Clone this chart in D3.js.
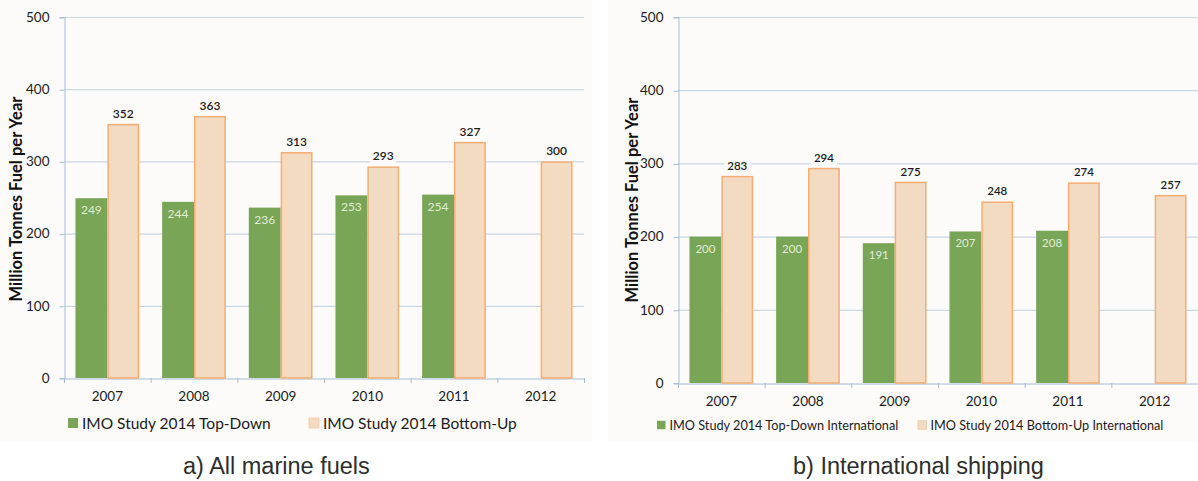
<!DOCTYPE html>
<html>
<head>
<meta charset="utf-8">
<script src="https://cdn.jsdelivr.net/npm/d3@7/dist/d3.min.js"></script>
<style>
  body { margin: 0; background: #ffffff; }
  svg { display: block; }
  .chart-text { font-family: Lato, "Open Sans", "DejaVu Sans", sans-serif; }
  .caption { font-family: "Liberation Sans", Arial, sans-serif; }
</style>
</head>
<body>
<svg id="chart" width="1198" height="481"></svg>
<script>
// Fuel consumption estimates, million tonnes per year
const years = ["2007", "2008", "2009", "2010", "2011", "2012"];
const allTopDown = [249, 244, 236, 253, 254, null];
const allBottomUp = [352, 363, 313, 293, 327, 300];
const intlTopDown = [200, 200, 191, 207, 208, null];
const intlBottomUp = [283, 294, 275, 248, 274, 257];
const yTicks = [0, 100, 200, 300, 400, 500];
const yTitle = "Million Tonnes Fuel per Year";
const seriesNamesAll = ["IMO Study 2014 Top-Down", "IMO Study 2014 Bottom-Up"];
const seriesNamesIntl = ["IMO Study 2014 Top-Down International", "IMO Study 2014 Bottom-Up International"];
const captions = ["a) All marine fuels", "b) International shipping"];

const GREEN = "#78a556";
const PEACH = "#f3dbc2";
const PEACH_EDGE = "#f5ad72";
const GRID = "#c9d6e4";
const AXIS = "#a8bdd6";
const PANEL_BG = "#fdfbf9";

const svg = d3.select("#chart");

const panels = [
  {
    topDown: allTopDown, bottomUp: allBottomUp, names: seriesNamesAll, caption: captions[0],
    bg: [0, 593], plot: { x0: 64, x1: 584, y0: 17, y1: 378 },
    titleX: 16, titleY: 199, tickFont: 13.5, xLabelY: 401, valueFont: 11.5,
    legend: { y: 423, size: 10, font: 15.5, items: [68, 309] },
    captionX: 183
  },
  {
    topDown: intlTopDown, bottomUp: intlBottomUp, names: seriesNamesIntl, caption: captions[1],
    bg: [608, 1198], plot: { x0: 678, x1: 1198, y0: 17, y1: 383 },
    titleX: 632, titleY: 200, tickFont: 13.5, xLabelY: 406, valueFont: 11,
    legend: { y: 425, size: 8.5, font: 12.7, items: [657, 918] },
    captionX: 793
  }
];

panels.forEach(p => {
  const g = svg.append("g");

  g.append("rect")
    .attr("x", p.bg[0]).attr("y", 0)
    .attr("width", p.bg[1] - p.bg[0]).attr("height", 442)
    .attr("fill", PANEL_BG);

  const x = d3.scaleBand().domain(years).range([p.plot.x0, p.plot.x1]).padding(0);
  const xs = d3.scaleBand().domain([0, 1]).range([0, x.bandwidth()])
    .paddingInner(0).paddingOuter(0.36);
  const y = d3.scaleLinear().domain([0, 500]).range([p.plot.y1, p.plot.y0]);

  // horizontal gridlines
  g.append("g").selectAll("line").data(yTicks.filter(t => t > 0)).join("line")
    .attr("x1", p.plot.x0).attr("x2", p.plot.x1)
    .attr("y1", d => y(d) + 0.5).attr("y2", d => y(d) + 0.5)
    .attr("stroke", GRID).attr("stroke-width", 1.2);

  // y axis
  const yAxis = g.append("g")
    .attr("transform", `translate(${p.plot.x0 + 0.5},0)`)
    .call(d3.axisLeft(y).tickValues(yTicks).tickSize(5).tickPadding(10));
  yAxis.select(".domain").attr("stroke", AXIS);
  yAxis.selectAll(".tick line").attr("stroke", AXIS).attr("transform", "translate(0,0.5)");
  yAxis.selectAll(".tick text")
    .attr("class", "chart-text").attr("fill", "#1a1a1a")
    .style("font-size", p.tickFont + "px");

  // x axis
  const xAxis = g.append("g")
    .attr("transform", `translate(0,${p.plot.y1 + 0.5})`)
    .call(d3.axisBottom(x).tickSize(0).tickPadding(0));
  xAxis.select(".domain").attr("stroke", AXIS);
  xAxis.selectAll(".tick text").remove();
  // boundary ticks between categories
  g.append("g").selectAll("line").data(years.concat(["end"])).join("line")
    .attr("x1", (d, i) => p.plot.x0 + i * x.step() + 0.5)
    .attr("x2", (d, i) => p.plot.x0 + i * x.step() + 0.5)
    .attr("y1", p.plot.y1).attr("y2", p.plot.y1 + 5)
    .attr("stroke", AXIS);
  g.append("g").selectAll("text").data(years).join("text")
    .attr("class", "chart-text")
    .attr("x", d => x(d) + x.bandwidth() / 2)
    .attr("y", p.xLabelY)
    .attr("text-anchor", "middle")
    .attr("fill", "#1a1a1a")
    .style("font-size", "13.5px")
    .text(d => d);

  // y axis title
  g.append("text")
    .attr("class", "chart-text")
    .attr("transform", `translate(${p.titleX},${p.titleY}) rotate(-90)`)
    .attr("text-anchor", "middle")
    .attr("dominant-baseline", "central")
    .attr("fill", "#111")
    .style("font-size", "16.5px")
    .style("font-weight", "bold")
    .text(yTitle);

  const rows = years.map((yr, i) => ({ yr, td: p.topDown[i], bu: p.bottomUp[i] }));

  // top-down bars
  g.append("g").selectAll("rect").data(rows.filter(r => r.td != null)).join("rect")
    .attr("x", r => x(r.yr) + xs(0))
    .attr("y", r => y(r.td))
    .attr("width", xs.bandwidth())
    .attr("height", r => y(0) - y(r.td))
    .attr("fill", GREEN);

  // bottom-up bars
  g.append("g").selectAll("rect").data(rows.filter(r => r.bu != null)).join("rect")
    .attr("x", r => x(r.yr) + xs(1) + 0.75)
    .attr("y", r => y(r.bu) + 0.75)
    .attr("width", xs.bandwidth() - 1.5)
    .attr("height", r => y(0) - y(r.bu) - 0.75)
    .attr("fill", PEACH)
    .attr("stroke", PEACH_EDGE)
    .attr("stroke-width", 1.5);

  // top-down value labels inside bars
  g.append("g").selectAll("text").data(rows.filter(r => r.td != null)).join("text")
    .attr("class", "chart-text")
    .attr("x", r => x(r.yr) + xs(0) + xs.bandwidth() / 2)
    .attr("y", r => y(r.td) + 16)
    .attr("text-anchor", "middle")
    .attr("fill", "#e3ecd6")
    .style("font-size", (p.valueFont + 0.5) + "px")
    .text(r => r.td);

  // bottom-up value labels above bars, on a small backing box
  const bl = g.append("g").selectAll("g").data(rows.filter(r => r.bu != null)).join("g")
    .attr("transform", r => `translate(${x(r.yr) + xs(1) + xs.bandwidth() / 2},${y(r.bu) - 6})`);
  bl.append("rect")
    .attr("x", -13).attr("y", -10).attr("width", 26).attr("height", 13)
    .attr("fill", PANEL_BG);
  bl.append("text")
    .attr("class", "chart-text")
    .attr("text-anchor", "middle")
    .attr("fill", "#1a1a1a")
    .style("font-size", (p.valueFont + 0.5) + "px")
    .style("font-weight", "600")
    .text(r => r.bu);

  // legend
  const lg = g.append("g");
  const fills = [GREEN, PEACH];
  p.names.forEach((name, i) => {
    const lx = p.legend.items[i];
    lg.append("rect")
      .attr("x", lx).attr("y", p.legend.y - p.legend.size / 2)
      .attr("width", p.legend.size).attr("height", p.legend.size)
      .attr("fill", fills[i])
      .attr("stroke", i === 1 ? "#f3c9a0" : "none")
      .attr("stroke-width", 0.8);
    lg.append("text")
      .attr("class", "chart-text")
      .attr("x", lx + p.legend.size + 4)
      .attr("y", p.legend.y)
      .attr("dominant-baseline", "central")
      .attr("fill", "#1a1a1a")
      .style("font-size", p.legend.font + "px")
      .text(name);
  });

  // caption
  g.append("text")
    .attr("class", "caption")
    .attr("x", p.captionX)
    .attr("y", 474)
    .attr("fill", "#2e2e2e")
    .style("font-size", "23.5px")
    .text(p.caption);
});
</script>
</body>
</html>
